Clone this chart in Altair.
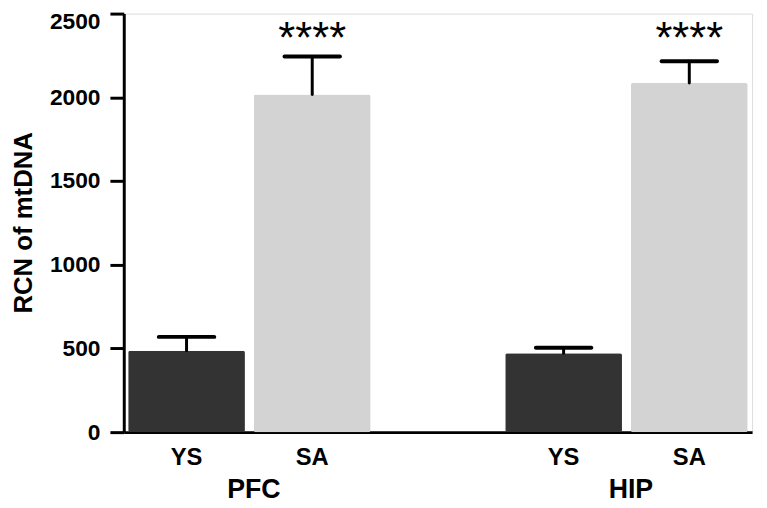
import altair as alt
import pandas as pd

# ---- data ----
groups = ["PFC", "PFC", "HIP", "HIP"]
conditions = ["YS", "SA", "YS", "SA"]
means = [486, 2017, 471, 2085]
errors = [83, 227, 33, 130]

group_names = ["PFC", "HIP"]
star_labels = ["****", "****"]
star_y = [2262, 2262]

y_ticks = [0, 500, 1000, 1500, 2000, 2500]
slots = ["PFC YS", "PFC SA", "gap", "HIP YS", "HIP SA"]

df = pd.DataFrame({
    "group": groups,
    "cond": conditions,
    "slot": [f"{g} {c}" for g, c in zip(groups, conditions)],
    "mean": means,
    "err": errors,
})
df["upper"] = df["mean"] + df["err"]

stars_df = pd.DataFrame({
    "slot": ["PFC SA", "HIP SA"],
    "label": star_labels,
    "y": star_y,
})

groups_df = pd.DataFrame({
    "slot": ["PFC SA", "HIP SA"],
    "name": group_names,
})

FONT = "Liberation Sans"

x_axis = alt.Axis(
    title=None, ticks=False, domainWidth=3, domainColor="black",
    labelFont=FONT, labelFontSize=24, labelFontWeight="bold", labelColor="black",
    labelPadding=14, labelAngle=0,
    labelExpr="indexof(datum.label, ' ') > 0 ? split(datum.label, ' ')[1] : ''",
    grid=False,
)
x_scale = alt.Scale(domain=slots, paddingInner=0.071, paddingOuter=0.035)

y_axis = alt.Axis(
    title="RCN of mtDNA", values=y_ticks, format="d",
    grid=False, domainWidth=3, domainColor="black", tickWidth=3, tickColor="black",
    tickSize=14, labelPadding=10,
    labelFont=FONT, labelFontSize=23, labelFontWeight="bold", labelColor="black",
    labelOffset={"condition": {"test": "datum.value == 2500", "value": 8}, "value": 0},
    titleFont=FONT, titleFontSize=26, titleFontWeight="bold", titleColor="black",
    titleX=-101, titleY=211, titleAlign="center", titleBaseline="middle", titleAngle=-90,
)
y_scale = alt.Scale(domain=[0, 2500], nice=False)

X = alt.X("slot:N", scale=x_scale, axis=x_axis, sort=slots)

bars = alt.Chart(df).mark_bar(cornerRadius=2).encode(
    x=X,
    y=alt.Y("mean:Q", scale=y_scale, axis=y_axis),
    color=alt.Color("cond:N", scale=alt.Scale(domain=["YS", "SA"], range=["#333333", "#d3d3d3"]), legend=None),
)

err_rule = alt.Chart(df).mark_rule(strokeWidth=3, color="black", strokeCap="round").encode(
    x=X,
    y=alt.Y("mean:Q", scale=y_scale, axis=y_axis),
    y2="upper:Q",
)

caps = alt.Chart(df).mark_tick(size=60, thickness=4, color="black", opacity=1, cornerRadius=2).encode(
    x=X,
    y=alt.Y("upper:Q", scale=y_scale, axis=y_axis),
)

stars = alt.Chart(stars_df).mark_text(font=FONT, fontSize=44, color="black", baseline="alphabetic", align="center").encode(
    x=X,
    y=alt.Y("y:Q", scale=y_scale, axis=y_axis),
    text="label:N",
)

group_text = alt.Chart(groups_df).mark_text(font=FONT, fontSize=27, fontWeight="bold", color="black", baseline="middle", align="center").encode(
    x=alt.X("slot:N", scale=x_scale, axis=x_axis, sort=slots, bandPosition=0),
    y=alt.value(482),
    text="name:N",
)

chart = alt.layer(bars, err_rule, caps, stars, group_text).properties(
    width=635, height=423,
    autosize=alt.AutoSizeParams(type="none"),
    padding={"left": 117, "top": 3, "right": 7, "bottom": 74},
).configure_view(stroke=None).configure(background="white")

chart.save("out.html", embed_options={"renderer": "svg", "actions": False})
